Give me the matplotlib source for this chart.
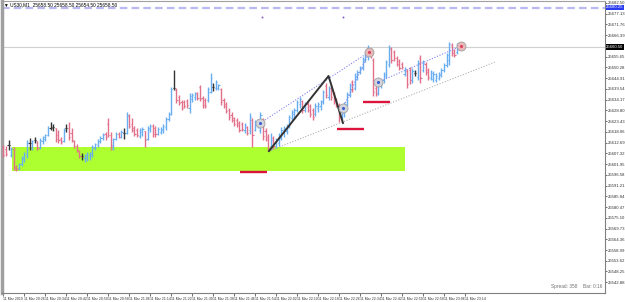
import numpy as np
import matplotlib.pyplot as plt
import matplotlib.transforms as mtransforms

# US30 M1 bars (open, high, low, close), one per minute starting 20:18
opens = [25610.5, 25609.5, 25611.5, 25606.5, 25609.5, 25600.5, 25600.0, 25602.0, 25604.5, 25606.5,
         25612.5, 25610.5, 25614.0, 25613.5, 25610.5, 25613.5, 25614.5, 25616.5, 25620.0, 25620.5,
         25620.0, 25616.5, 25614.5, 25613.5, 25620.0, 25620.0, 25617.5, 25613.5, 25611.0, 25608.5,
         25606.0, 25605.0, 25605.0, 25606.0, 25606.5, 25610.0, 25611.5, 25613.5, 25615.0, 25617.0,
         25622.0, 25616.5, 25611.0, 25614.5, 25617.0, 25615.5, 25617.5, 25617.5, 25626.0, 25622.0,
         25620.0, 25619.0, 25616.0, 25618.0, 25618.5, 25614.5, 25619.5, 25621.0, 25620.0, 25617.0,
         25618.0, 25619.0, 25620.5, 25624.5, 25627.0, 25640.0, 25639.0, 25635.5, 25633.0, 25633.0,
         25633.5, 25630.0, 25634.5, 25635.5, 25637.5, 25640.5, 25635.0, 25634.0, 25634.0, 25638.0,
         25640.5, 25640.0, 25640.0, 25639.5, 25634.0, 25632.0, 25629.0, 25626.5, 25625.0, 25624.0,
         25622.5, 25622.0, 25619.0, 25620.5, 25619.0, 25624.0, 25619.0, 25621.5, 25619.0, 25624.5,
         25618.5, 25615.5, 25611.0, 25615.0, 25611.0, 25612.5, 25615.0, 25617.5, 25618.5, 25621.0,
         25625.0, 25627.0, 25629.0, 25632.0, 25633.5, 25629.0, 25632.0, 25631.0, 25629.0, 25627.0,
         25630.0, 25631.0, 25633.5, 25641.0, 25635.5, 25640.0, 25637.0, 25634.5, 25631.5, 25626.0,
         25627.5, 25632.0, 25636.5, 25643.0, 25640.0, 25645.5, 25648.0, 25650.0, 25654.0, 25656.0,
         25659.5, 25654.0, 25640.0, 25637.5, 25641.0, 25644.0, 25646.0, 25652.0, 25659.5, 25658.0,
         25655.0, 25653.5, 25652.0, 25647.0, 25648.5, 25649.0, 25644.0, 25647.5, 25645.5, 25655.0,
         25649.0, 25652.0, 25649.0, 25645.0, 25644.5, 25644.0, 25645.0, 25646.5, 25649.0, 25651.5,
         25654.0, 25661.5, 25659.0, 25658.0, 25662.0]
highs = [25611.5, 25611.0, 25614.0, 25610.5, 25610.5, 25601.5, 25602.5, 25606.0, 25608.0, 25614.0,
         25615.0, 25614.0, 25615.5, 25613.5, 25615.0, 25616.0, 25617.0, 25621.0, 25623.0, 25622.0,
         25620.0, 25619.0, 25615.5, 25620.0, 25622.0, 25623.0, 25620.0, 25614.0, 25612.0, 25609.0,
         25607.5, 25607.0, 25608.0, 25608.0, 25611.5, 25612.5, 25614.5, 25616.0, 25617.5, 25618.0,
         25625.0, 25618.0, 25615.0, 25618.0, 25618.0, 25619.0, 25620.0, 25628.0, 25627.0, 25625.0,
         25621.0, 25620.0, 25620.0, 25620.5, 25618.5, 25621.0, 25622.0, 25622.0, 25621.0, 25620.5,
         25620.5, 25622.0, 25625.5, 25628.0, 25640.5, 25649.0, 25640.0, 25636.5, 25634.0, 25634.0,
         25634.5, 25637.5, 25637.5, 25638.0, 25638.0, 25641.5, 25636.0, 25635.0, 25640.5, 25647.5,
         25642.5, 25644.0, 25642.0, 25640.0, 25635.0, 25633.0, 25630.0, 25628.0, 25625.5, 25625.0,
         25623.5, 25623.0, 25622.5, 25621.0, 25627.5, 25625.0, 25624.0, 25624.5, 25628.0, 25625.0,
         25620.0, 25617.0, 25617.5, 25616.0, 25615.0, 25617.5, 25620.5, 25621.0, 25622.0, 25626.5,
         25629.0, 25630.0, 25634.0, 25635.5, 25634.0, 25633.0, 25633.0, 25632.0, 25630.0, 25632.5,
         25633.0, 25634.0, 25639.0, 25642.5, 25641.0, 25641.5, 25638.0, 25635.0, 25632.5, 25631.5,
         25633.0, 25638.0, 25642.5, 25644.0, 25647.5, 25649.0, 25651.0, 25655.5, 25658.0, 25661.5,
         25660.0, 25655.0, 25641.0, 25643.0, 25644.5, 25648.0, 25654.0, 25661.5, 25660.5, 25659.0,
         25656.0, 25654.5, 25653.0, 25650.5, 25649.5, 25650.5, 25650.0, 25649.0, 25654.0, 25656.5,
         25654.0, 25653.0, 25650.0, 25649.0, 25648.5, 25647.5, 25648.0, 25650.0, 25652.5, 25657.5,
         25663.0, 25662.5, 25659.5, 25662.5, 25662.5]
lows = [25605.5, 25606.0, 25609.0, 25605.5, 25599.0, 25598.5, 25599.0, 25601.0, 25603.0, 25605.0,
        25609.0, 25609.0, 25612.5, 25609.0, 25609.5, 25612.0, 25613.5, 25616.0, 25619.0, 25618.5,
        25613.0, 25612.5, 25612.0, 25613.0, 25618.0, 25614.0, 25613.0, 25610.0, 25608.0, 25605.0,
        25604.0, 25603.0, 25603.5, 25604.0, 25605.5, 25609.0, 25610.5, 25612.5, 25614.0, 25614.0,
        25615.5, 25609.0, 25609.0, 25614.0, 25615.0, 25615.0, 25614.5, 25617.0, 25620.0, 25618.0,
        25616.0, 25615.5, 25615.0, 25616.0, 25610.5, 25614.0, 25618.0, 25615.5, 25615.5, 25616.5,
        25617.0, 25617.5, 25619.0, 25623.5, 25626.5, 25639.0, 25632.5, 25631.5, 25629.0, 25630.0,
        25630.0, 25627.5, 25633.0, 25634.0, 25634.0, 25633.5, 25630.0, 25630.0, 25633.0, 25637.5,
        25638.5, 25639.0, 25639.0, 25631.5, 25630.0, 25627.5, 25624.0, 25623.0, 25621.0, 25620.5,
        25618.0, 25618.5, 25617.5, 25616.5, 25617.0, 25610.5, 25618.5, 25620.0, 25617.5, 25614.0,
        25613.5, 25608.5, 25609.0, 25609.5, 25610.0, 25611.0, 25614.0, 25615.5, 25617.0, 25620.0,
        25624.0, 25625.0, 25628.0, 25630.0, 25627.5, 25628.0, 25628.0, 25625.5, 25624.0, 25626.0,
        25628.0, 25629.0, 25632.0, 25635.0, 25634.0, 25634.0, 25632.0, 25630.5, 25623.0, 25624.0,
        25625.5, 25631.0, 25635.5, 25638.0, 25639.0, 25644.0, 25647.0, 25649.0, 25653.0, 25654.0,
        25655.0, 25636.0, 25636.0, 25636.5, 25640.0, 25642.5, 25645.0, 25650.5, 25652.5, 25653.5,
        25651.0, 25649.0, 25649.5, 25646.0, 25640.0, 25642.0, 25642.5, 25646.0, 25644.0, 25642.5,
        25648.0, 25646.5, 25644.0, 25644.0, 25643.0, 25643.0, 25644.0, 25645.5, 25648.0, 25650.5,
        25651.5, 25656.0, 25655.5, 25657.0, 25660.0]
closes = [25606.5, 25607.0, 25611.5, 25609.5, 25600.0, 25599.5, 25602.0, 25605.0, 25607.0, 25612.5,
          25612.5, 25613.5, 25614.0, 25610.0, 25614.0, 25615.5, 25616.5, 25620.0, 25620.0, 25620.5,
          25614.5, 25614.0, 25613.0, 25619.0, 25620.0, 25615.5, 25614.0, 25611.0, 25609.0, 25606.0,
          25606.0, 25606.5, 25607.0, 25607.5, 25610.5, 25612.0, 25613.5, 25615.0, 25616.5, 25615.5,
          25616.5, 25611.5, 25614.5, 25617.0, 25615.5, 25618.0, 25617.5, 25626.5, 25621.0, 25619.0,
          25617.0, 25616.5, 25619.0, 25619.5, 25614.0, 25620.0, 25621.0, 25617.0, 25617.0, 25619.5,
          25619.5, 25621.0, 25624.5, 25627.0, 25639.5, 25640.0, 25634.0, 25632.5, 25630.0, 25631.0,
          25631.5, 25636.0, 25636.5, 25637.0, 25635.0, 25634.5, 25631.5, 25631.0, 25639.5, 25645.0,
          25640.5, 25643.0, 25641.5, 25633.0, 25631.0, 25628.5, 25625.5, 25624.0, 25622.0, 25621.5,
          25619.0, 25619.5, 25621.5, 25617.5, 25625.5, 25616.5, 25622.5, 25623.5, 25626.5, 25616.0,
          25614.5, 25610.0, 25614.0, 25611.0, 25613.5, 25616.0, 25619.0, 25620.0, 25621.0, 25625.5,
          25628.0, 25629.0, 25633.0, 25634.5, 25629.0, 25632.0, 25629.0, 25627.0, 25625.5, 25631.0,
          25632.0, 25633.0, 25638.0, 25636.5, 25640.0, 25635.5, 25633.0, 25631.5, 25625.0, 25630.0,
          25632.0, 25637.0, 25641.5, 25639.5, 25646.0, 25648.0, 25650.0, 25654.5, 25657.0, 25660.0,
          25656.5, 25638.0, 25637.0, 25641.5, 25643.5, 25647.0, 25653.0, 25660.0, 25654.0, 25655.0,
          25652.0, 25650.0, 25650.5, 25649.5, 25642.0, 25644.0, 25648.5, 25647.5, 25652.5, 25645.0,
          25652.5, 25648.0, 25645.5, 25647.5, 25647.0, 25646.0, 25647.0, 25649.0, 25651.5, 25656.5,
          25662.0, 25657.5, 25656.5, 25661.0, 25660.5]

time_labels = ["11 Mar 2019", "11 Mar 20:26", "11 Mar 20:34", "11 Mar 20:42", "11 Mar 20:50",
               "11 Mar 20:58", "11 Mar 21:06", "11 Mar 21:14", "11 Mar 21:22", "11 Mar 21:30",
               "11 Mar 21:38", "11 Mar 21:46", "11 Mar 21:54", "11 Mar 22:02", "11 Mar 22:10",
               "11 Mar 22:18", "11 Mar 22:26", "11 Mar 22:34", "11 Mar 22:42", "11 Mar 22:50",
               "11 Mar 22:58", "11 Mar 23:06", "11 Mar 23:14"]

# drawn objects (bar index, price)
zone = (3.5, 153.0, 25598.5, 25610.5)          # x0, x1, y0, y1
red_levels = [(90.2, 100.5, 25598.0), (127.2, 137.5, 25619.5), (137.1, 147.4, 25633.0)]
swing_x = [101.3, 124.0, 129.5]
swing_y = [25608.5, 25646.0, 25622.5]
circle_x = [98.0, 129.5, 139.5, 143.0, 174.5]
circle_y = [25622.5, 25630.0, 25658.0, 25643.0, 25661.0]
circle_hot = [False, False, True, False, True]
dotted_links = [((98.0, 139.5), (25622.5, 25658.0)),
                ((129.5, 139.5), (25630.0, 25658.0)),
                ((143.0, 174.5), (25643.0, 25661.0))]
trend_x = [101.3, 187.5]
trend_y = [25608.5, 25653.0]
dashed_level = 25680.25
current_price = closes[-1]

W, H = 625, 302
fig = plt.figure(figsize=(W / 100, H / 100), dpi=100)
ax = fig.add_axes([2 / W, 9 / H, 603 / W, 292 / H])

ax.set_xlim(-0.5, 229.4)
ax.set_ylim(25537.5, 25683.5)

# green zone
ax.fill_between([zone[0], zone[1]], zone[2], zone[3], color="#adff2f", lw=0, zorder=1)

# bars
x = np.arange(len(closes))
o = np.array(opens); c = np.array(closes)
cols = np.where(c > o, "#6aaef2", np.where(c < o, "#e2708a", "#333333"))
ax.vlines(x, lows, highs, colors=cols, lw=1.0, zorder=3)
ax.hlines(opens, x - 0.45, x, colors=cols, lw=0.8, zorder=3)
ax.hlines(closes, x, x + 0.45, colors=cols, lw=0.8, zorder=3)

# levels
ax.axhline(current_price, color="#d0d0d0", lw=0.8, zorder=2)
ax.axhline(dashed_level, color="#b8b8f2", lw=1.6, dashes=(3.4, 1.9), zorder=2)
for x0, x1, yv in red_levels:
    ax.plot([x0, x1], [yv, yv], color="#dc143c", lw=1.7, solid_capstyle="butt", zorder=4)

ax.plot(trend_x, trend_y, color="#b0b0b0", lw=0.8, ls=(0, (1, 1.5)), zorder=4)
for lx, ly in dotted_links:
    ax.plot(lx, ly, color="#8080ee", lw=0.8, ls=(0, (1, 1.5)), zorder=4)
ax.plot(swing_x, swing_y, color="#333333", lw=1.4, zorder=5)

for cx, cy, hot in zip(circle_x, circle_y, circle_hot):
    ax.scatter(cx, cy, s=42, facecolor="#e8b8b8" if hot else "#d4d4dc",
               edgecolor="#a0a0a0", lw=0.6, zorder=6)
    ax.scatter(cx, cy, s=5, color="#e04060" if hot else "#4060d0", lw=0, zorder=7)
ax.scatter([98.6, 129.5], [25675.5, 25675.5], s=2, color="#8060c0", lw=0, zorder=6)

# axes styling
for s in ["top", "left"]:
    ax.spines[s].set_color("#a0a0a0")
ax.spines["left"].set_linewidth(2.5)
for s in ["right", "bottom"]:
    ax.spines[s].set_color("#808080")
    ax.spines[s].set_linewidth(0.8)

small = "Liberation Sans"
yt = np.arange(25682.5, 25538.0, -5.37)
yt = yt[np.abs(yt - current_price) > 2.5]   # the price tag sits there
ax.yaxis.tick_right()
ax.set_yticks(yt)
ax.set_yticklabels([f"{v:.2f}" for v in yt], fontfamily=small)
ax.tick_params(axis="y", labelsize=3.1, length=1.5, width=0.5, pad=0.5, colors="#333333")

xt = np.arange(len(time_labels)) * 8
ax.set_xticks(xt)
ax.set_xticklabels(time_labels, ha="left", fontfamily=small)
ax.tick_params(axis="x", labelsize=2.5, length=2, width=0.5, pad=1, colors="#333333")

# price tags on the right scale
tr = mtransforms.blended_transform_factory(ax.transAxes, ax.transData)
for lvl, fc in [(dashed_level, "#2b3cf0"), (current_price, "black")]:
    ax.text(1.002, lvl, f"{lvl:.2f}", transform=tr, fontsize=3.1, fontfamily=small, color="white",
            va="center", ha="left", bbox=dict(boxstyle="square,pad=0.15", fc=fc, ec="none"))

ax.text(0.004, 0.994, "\u25bc US30,M1  25658.50 25658.50 25654.50 25658.50", transform=ax.transAxes,
        fontsize=3.4, fontfamily=small, va="top", ha="left", color="black")
ax.text(0.911, 0.012, "Spread: 358", transform=ax.transAxes, fontsize=3.4, fontfamily=small,
        color="#707070", va="bottom", ha="left")
ax.text(0.963, 0.012, "Bar: 0:16", transform=ax.transAxes, fontsize=3.4, fontfamily=small,
        color="#707070", va="bottom", ha="left")

fig.savefig("out.png", dpi=100)
